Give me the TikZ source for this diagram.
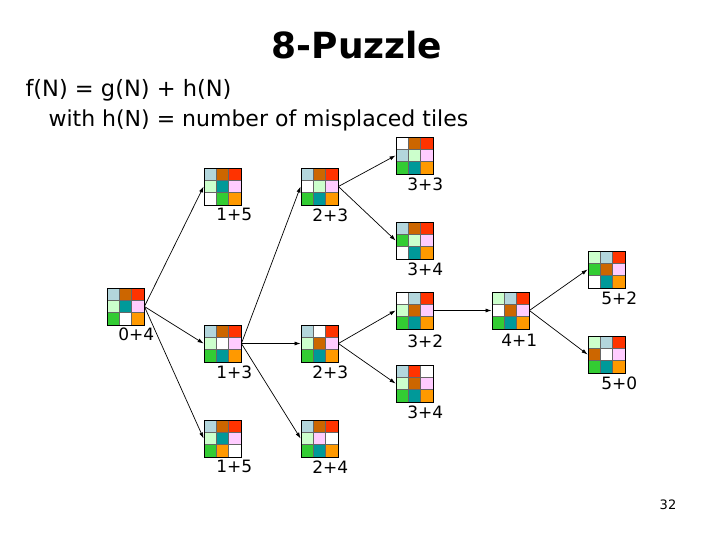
\documentclass[tikz,border=0pt]{standalone}
\usepackage{fontspec}
\setmainfont{DejaVu Sans}
\usetikzlibrary{arrows.meta, positioning}
\definecolor{tblue}{HTML}{B3D6DC}
\definecolor{tbrown}{HTML}{CC6600}
\definecolor{tred}{HTML}{FF3300}
\definecolor{tmint}{HTML}{CCFFCC}
\definecolor{tteal}{HTML}{009999}
\definecolor{tpink}{HTML}{FFCCFF}
\definecolor{tgreen}{HTML}{33CC33}
\definecolor{torange}{HTML}{FF9900}
\tikzset{
  board/.style={rectangle,draw,line width=0.8pt,minimum size=37pt,inner sep=0pt},
  tile/.style={draw=black!60,line width=0.4pt},
  cost/.style={font=\fontsize{17}{17}\selectfont,inner sep=0pt,anchor=north east},
  line/.style={-{Latex[length=6pt,width=4pt]},line width=0.7pt}
}
% board name, centre, nine tile colours row by row
\newcommand{\board}[3]{%
  \foreach \c [count=\i from 0] in {#3} {
    \pgfmathtruncatemacro\cx{mod(\i,3)}
    \pgfmathtruncatemacro\cy{div(\i,3)}
    \filldraw[tile,fill=\c] (#2) ++(\cx*12.333-18.5,\cy*12.333-18.5) rectangle ++(12.333,12.333);
  }
  \node[board] (#1) at (#2) {};
}

\begin{document}
\begin{tikzpicture}[x=1pt,y=-1pt]
\useasboundingbox (0,0) rectangle (720,540);

\node[font=\fontsize{36}{36}\selectfont\bfseries] (title) at (357,45) {8-Puzzle};
\node[anchor=west,font=\fontsize{22.5}{22.5}\selectfont] (eq) at (22,90) {f(N) = g(N) + h(N)};
\node[anchor=west,font=\fontsize{22}{22}\selectfont] (eqh) at (45,120) {with h(N) = number of misplaced tiles};

\board{s04}{125.5,306.5}{tblue,tbrown,tred,tmint,tteal,tpink,tgreen,white,torange}
\board{s15a}{222.5,186.5}{tblue,tbrown,tred,tmint,tteal,tpink,white,tgreen,torange}
\board{s13}{222.5,343.5}{tblue,tbrown,tred,tmint,white,tpink,tgreen,tteal,torange}
\board{s15b}{222.5,438.5}{tblue,tbrown,tred,tmint,tteal,tpink,tgreen,torange,white}
\board{s23a}{319.5,186.5}{tblue,tbrown,tred,white,tmint,tpink,tgreen,tteal,torange}
\board{s23b}{319.5,343.5}{tblue,white,tred,tmint,tbrown,tpink,tgreen,tteal,torange}
\board{s24}{319.5,438.5}{tblue,tbrown,tred,tmint,tpink,white,tgreen,tteal,torange}
\board{s33}{414.5,155.5}{white,tbrown,tred,tblue,tmint,tpink,tgreen,tteal,torange}
\board{s34a}{414.5,240.5}{tblue,tbrown,tred,tgreen,tmint,tpink,white,tteal,torange}
\board{s32}{414.5,310.5}{white,tblue,tred,tmint,tbrown,tpink,tgreen,tteal,torange}
\board{s34b}{414.5,383.5}{tblue,tred,white,tmint,tbrown,tpink,tgreen,tteal,torange}
\board{s41}{510.5,310.5}{tmint,tblue,tred,white,tbrown,tpink,tgreen,tteal,torange}
\board{s52}{606.5,269.5}{tmint,tblue,tred,tgreen,tbrown,tpink,white,tteal,torange}
\board{s50}{606.5,354.5}{tmint,tblue,tred,tbrown,white,tpink,tgreen,tteal,torange}

\node[cost] (c04) at ([xshift=10pt,yshift=-2pt]s04.south east) {0+4};
\node[cost] (c15a) at ([xshift=11pt,yshift=-3pt]s15a.south east) {1+5};
\node[cost] (c13) at ([xshift=11pt,yshift=-3pt]s13.south east) {1+3};
\node[cost] (c15b) at ([xshift=11pt,yshift=-3pt]s15b.south east) {1+5};
\node[cost] (c23a) at ([xshift=10pt,yshift=-3pt]s23a.south east) {2+3};
\node[cost] (c23b) at ([xshift=10pt,yshift=-3pt]s23b.south east) {2+3};
\node[cost] (c24) at ([xshift=10pt,yshift=-3pt]s24.south east) {2+4};
\node[cost] (c33) at ([xshift=10pt,yshift=-3pt]s33.south east) {3+3};
\node[cost] (c34a) at ([xshift=10pt,yshift=-3pt]s34a.south east) {3+4};
\node[cost] (c32) at ([xshift=10pt,yshift=-5pt]s32.south east) {3+2};
\node[cost] (c34b) at ([xshift=10pt,yshift=-3pt]s34b.south east) {3+4};
\node[cost] (c41) at ([xshift=8pt,yshift=-5pt]s41.south east) {4+1};
\node[cost] (c52) at ([xshift=12pt,yshift=-3pt]s52.south east) {5+2};
\node[cost] (c50) at ([xshift=12pt,yshift=-3pt]s50.south east) {5+0};

\draw[line] (s04.east) -- (s15a.west);
\draw[line] (s04.east) -- (s13.west);
\draw[line] (s04.east) -- (s15b.west);
\draw[line] (s13.east) -- (s23a.west);
\draw[line] (s13.east) -- (s23b.west);
\draw[line] (s13.east) -- (s24.west);
\draw[line] (s23a.east) -- (s33.west);
\draw[line] (s23a.east) -- (s34a.west);
\draw[line] (s23b.east) -- (s32.west);
\draw[line] (s23b.east) -- (s34b.west);
\draw[line] (s32.east) -- (s41.west);
\draw[line] (s41.east) -- (s52.west);
\draw[line] (s41.east) -- (s50.west);

\node[font=\fontsize{13}{13}\selectfont] (page) at (668,505) {32};
\end{tikzpicture}
\end{document}
